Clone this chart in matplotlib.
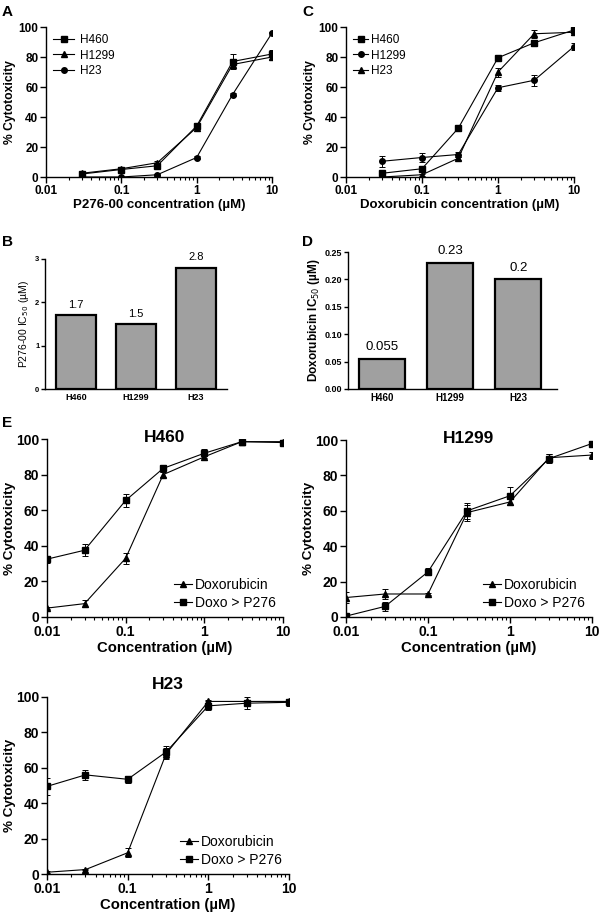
import matplotlib
matplotlib.use("Agg")
import matplotlib.pyplot as plt
from matplotlib.lines import Line2D
from matplotlib.ticker import LogLocator, FixedLocator, NullFormatter

plt.rcParams['font.family'] = ['Liberation Sans', 'DejaVu Sans']

# Panel A: P276-00 dose response
conc_a = [0.03, 0.1, 0.3, 1, 3, 10]
a_h460 = [2, 5, 7.5, 34, 77, 82]
a_h460_err = [1, 1, 1, 2, 5, 3]
a_h1299 = [2.5, 5.5, 9.5, 33, 75, 80]
a_h1299_err = [1, 1, 1, 2, 2, 2]
a_h23 = [0, 0, 1.5, 13, 55, 96]
a_h23_err = [0, 0, 0.5, 1, 1, 1]

# Panel C: Doxorubicin dose response
conc_c = [0.03, 0.1, 0.3, 1, 3, 10]
c_h460 = [2.5, 5.5, 32.5, 79.5, 89.5, 98]
c_h460_err = [1.5, 1, 1.5, 1.5, 2, 1.5]
c_h1299 = [10.5, 13, 15, 59.5, 64.5, 87]
c_h1299_err = [3.5, 3, 1.5, 2, 3.5, 2.5]
c_h23 = [0, 1.5, 12.5, 70, 95.5, 96.5]
c_h23_err = [0, 0.5, 1, 3, 2.5, 1.5]

# Panels B and D: IC50 bars
cell_lines = ['H460', 'H1299', 'H23']
ic50_p276 = [1.7, 1.5, 2.8]
ic50_p276_lbl = ['1.7', '1.5', '2.8']
ic50_doxo = [0.055, 0.23, 0.2]
ic50_doxo_lbl = ['0.055', '0.23', '0.2']

# Panel E: sequential treatment
conc_e = [0.01, 0.03, 0.1, 0.3, 1, 3, 10]
e_h460_dox = [5, 7.5, 33, 80, 90, 98.5, 98.5]
e_h460_dox_err = [0.5, 2, 3, 1.5, 2, 1, 1]
e_h460_seq = [32.5, 37.5, 65.5, 83.5, 92, 98.5, 98]
e_h460_seq_err = [2, 3.5, 3.5, 2, 2.5, 1, 1.5]
e_h1299_dox = [11, 13, 13, 59, 65, 90, 91.5]
e_h1299_dox_err = [3, 3, 0.5, 4.5, 1.5, 2, 2]
e_h1299_seq = [0.5, 6, 25.5, 60, 68.5, 89.5, 98]
e_h1299_seq_err = [1, 2.5, 2, 4.5, 5, 2.5, 1]
e_h23_dox = [1, 2.5, 12, 68, 97.5, 97.5, 97.5]
e_h23_dox_err = [0.5, 0.5, 2.5, 3, 1, 1, 1]
e_h23_seq = [49.5, 56, 53.5, 69, 95, 96.5, 97]
e_h23_seq_err = [5, 3, 2, 3.5, 2.5, 3.5, 2]

fig = plt.figure(figsize=(6, 9.16), dpi=100)
H = 916.0
W = 600.0


def add_ax(x0, x1, ytop, ybot):
    return fig.add_axes([x0 / W, 1 - ybot / H, (x1 - x0) / W, (ybot - ytop) / H])


def prism(ax):
    ax.spines['top'].set_visible(False)
    ax.spines['right'].set_visible(False)
    ax.spines['left'].set_linewidth(1.0)
    ax.spines['bottom'].set_linewidth(1.0)
    ax.tick_params(direction='out', width=1.0)


def curve(ax, x, y, err, marker, ms=4):
    ax.errorbar(x, y, yerr=err, color='black', marker=marker, ms=ms, lw=0.8,
                elinewidth=0.7, capsize=2, capthick=0.7)


def handles(markers, labels, ms):
    return [Line2D([], [], color='black', marker=m, ms=ms, lw=0.8, label=l)
            for m, l in zip(markers, labels)]


def dose_axes(ax, fs):
    prism(ax)
    ax.set_xscale('log')
    ax.set_xlim(0.01, 10)
    ax.set_ylim(0, 100)
    ax.set_yticks([0, 20, 40, 60, 80, 100])
    ax.xaxis.set_major_locator(FixedLocator([0.01, 0.1, 1, 10]))
    ax.set_xticklabels(['0.01', '0.1', '1', '10'])
    ax.xaxis.set_minor_locator(LogLocator(base=10, subs=range(2, 10)))
    ax.xaxis.set_minor_formatter(NullFormatter())
    ax.tick_params(axis='both', which='major', length=4, labelsize=fs, pad=1.5)
    ax.tick_params(axis='x', which='minor', length=2, width=0.8)
    for t in ax.get_xticklabels() + ax.get_yticklabels():
        t.set_fontweight('bold')


# ---- Panel A ----
ax = add_ax(46, 272, 27, 177)
curve(ax, conc_a, a_h460, a_h460_err, 's')
curve(ax, conc_a, a_h1299, a_h1299_err, '^')
curve(ax, conc_a, a_h23, a_h23_err, 'o')
dose_axes(ax, 8.5)
ax.set_ylabel('% Cytotoxicity', fontsize=8.7, fontweight='bold', labelpad=2)
ax.set_xlabel('P276-00 concentration (µM)', fontsize=9.5, fontweight='bold', labelpad=2)
ax.legend(handles=handles(['s', '^', 'o'], ['H460', 'H1299', 'H23'], 4),
          loc='upper left', frameon=False, fontsize=8.5, handlelength=1.8,
          handletextpad=0.5, labelspacing=0.3, borderaxespad=0.2)

# ---- Panel C ----
ax = add_ax(346, 574, 27, 177)
curve(ax, conc_c, c_h460, c_h460_err, 's')
curve(ax, conc_c, c_h1299, c_h1299_err, 'o')
curve(ax, conc_c, c_h23, c_h23_err, '^')
dose_axes(ax, 8.5)
ax.set_ylabel('% Cytotoxicity', fontsize=8.7, fontweight='bold', labelpad=2)
ax.set_xlabel('Doxorubicin concentration (µM)', fontsize=9.5, fontweight='bold', labelpad=2)
ax.legend(handles=handles(['s', 'o', '^'], ['H460', 'H1299', 'H23'], 4),
          loc='upper left', frameon=False, fontsize=8.5, handlelength=1.3,
          handletextpad=0.2, labelspacing=0.3, borderaxespad=0.2)


def bar_panel(ax, vals, lbls, ymax, yticks, ytl, tick_fs, cat_fs, val_fs, width):
    prism(ax)
    pos = list(range(len(vals)))
    ax.bar(pos, vals, width=width, color='#a0a0a0', edgecolor='black', linewidth=1.6)
    for p, v, l in zip(pos, vals, lbls):
        ax.text(p, v + ymax * 0.04, l, ha='center', va='bottom', fontsize=val_fs)
    ax.set_ylim(0, ymax)
    ax.set_yticks(yticks)
    ax.set_yticklabels(ytl, fontsize=tick_fs, fontweight='bold')
    ax.set_xticks(pos)
    ax.set_xticklabels(cell_lines, fontsize=cat_fs, fontweight='bold')
    ax.tick_params(axis='x', length=0, pad=3)
    ax.tick_params(axis='y', length=3, pad=1)


# ---- Panel B ----
ax = add_ax(45, 227, 259, 389)
bar_panel(ax, ic50_p276, ic50_p276_lbl, 3, [0, 1, 2, 3], ['0', '1', '2', '3'],
          5.5, 6.5, 8, 0.667)
ax.set_xlim(-0.517, 2.52)
ax.set_ylabel('P276-00 IC$_{50}$ (µM)', fontsize=7.5, labelpad=3)

# ---- Panel D ----
ax = add_ax(348, 557, 252, 389)
bar_panel(ax, ic50_doxo, ic50_doxo_lbl, 0.25, [0, 0.05, 0.1, 0.15, 0.2, 0.25],
          ['0.00', '0.05', '0.10', '0.15', '0.20', '0.25'], 6.5, 7, 9.5, 0.68)
ax.set_xlim(-0.5, 2.57)
ax.set_ylabel('Doxorubicin IC$_{50}$ (µM)', fontsize=8.5, fontweight='bold', labelpad=2)


def e_panel(ax, title, title_y, dox, dox_err, seq, seq_err):
    curve(ax, conc_e, dox, dox_err, '^', ms=5)
    curve(ax, conc_e, seq, seq_err, 's', ms=5)
    dose_axes(ax, 10)
    ax.set_ylabel('% Cytotoxicity', fontsize=9.7, fontweight='bold', labelpad=0)
    ax.set_xlabel('Concentration (µM)', fontsize=10.7, fontweight='bold', labelpad=2)
    ax.text(0.5, title_y, title, transform=ax.transAxes, ha='center', va='center',
            fontsize=12.5, fontweight='bold')
    ax.legend(handles=handles(['^', 's'], ['Doxorubicin', 'Doxo > P276'], 5),
              loc='lower right', frameon=False, fontsize=10, handlelength=1.3,
              handletextpad=0.2, labelspacing=0.3, borderaxespad=0.1)


ax = add_ax(47, 283, 439, 617)
e_panel(ax, 'H460', 1.01, e_h460_dox, e_h460_dox_err, e_h460_seq, e_h460_seq_err)
ax = add_ax(346, 592, 440, 617)
e_panel(ax, 'H1299', 1.01, e_h1299_dox, e_h1299_dox_err, e_h1299_seq, e_h1299_seq_err)
ax = add_ax(47, 289, 697, 874)
e_panel(ax, 'H23', 1.07, e_h23_dox, e_h23_dox_err, e_h23_seq, e_h23_seq_err)

# panel letters
for lbl, x, y in [('A', 2, 12), ('C', 302, 12), ('B', 2, 242), ('D', 302, 242), ('E', 2, 423)]:
    fig.text(x / W, 1 - y / H, lbl, fontsize=11, fontweight='bold', va='center', ha='left')

fig.savefig('out.png', dpi=100)
